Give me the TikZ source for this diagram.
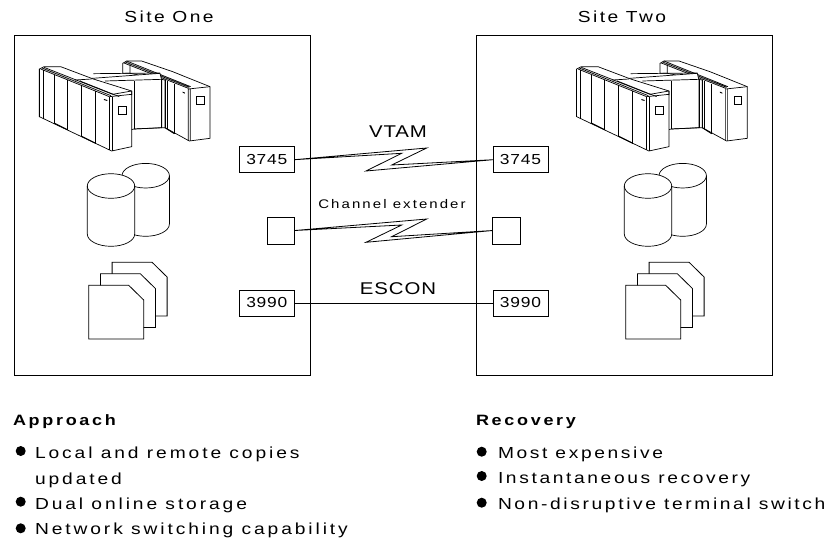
\documentclass[tikz,border=0pt]{standalone}
\usepackage{fontspec}
\setmainfont{Liberation Sans}
\newfontfamily\spaced[FakeStretch=1.2,LetterSpace=16.5]{Liberation Sans}
\newfontfamily\spacedl[FakeStretch=1.2,LetterSpace=18.2]{Liberation Sans}
\newfontfamily\spacedb[FakeStretch=1.2,LetterSpace=18,BoldFont={Liberation Sans Bold}]{Liberation Sans Bold}
\newfontfamily\wide[FakeStretch=1.2,LetterSpace=5.5]{Liberation Sans}
\newfontfamily\titlef[FakeStretch=1.2,LetterSpace=15]{Liberation Sans}
\begin{document}
\begin{tikzpicture}[x=1pt,y=-1pt,line join=miter,
  site/.style={draw,line width=1pt,minimum width=296pt,minimum height=340pt,inner sep=0pt,outer sep=0pt},
  unit/.style={draw,line width=0.8pt,inner sep=0pt,outer sep=0pt,minimum width=55pt,minimum height=26pt,font=\wide\fontsize{14.5}{14.5}\selectfont},
  port/.style={draw,line width=0.8pt,inner sep=0pt,outer sep=0pt,minimum width=27.5pt,minimum height=27pt},
  link/.style={line width=0.8pt,line join=miter},
  txt/.style={anchor=base west,inner sep=0pt,outer sep=0pt,font=\spaced\fontsize{16}{16}\selectfont},
  txtl/.style={txt,font=\spacedl\fontsize{16}{16}\selectfont},
  head/.style={anchor=base west,inner sep=0pt,outer sep=0pt,font=\spacedb\fontsize{15}{15}\selectfont},
  ctxt/.style={anchor=base,inner sep=0pt,outer sep=0pt,font=\titlef\fontsize{16}{16}\selectfont},
  dot/.style={circle,fill=black,inner sep=0pt,minimum size=10pt},
  gline/.style={line width=0.7pt},
  computer/.pic={
    \begin{scope}[x=0.3333pt,y=-0.3333pt,gline,fill=white]
    % right bank
    \filldraw (278,25) -- (290,18) -- (335,18) -- (428,50) -- (540,95) -- (540,250) -- (478,258) -- (405,218) -- (405,75) -- (300,55) -- (278,55) -- cycle;
    \draw (282,24) -- (475,100) (286,21) -- (478,97) (290,18) -- (482,95);
    \draw (300,28) -- (300,55) (475,100) -- (475,258) (481,100) -- (481,258) (475,102) -- (540,95);
    \draw (412,78) -- (412,222) (433,88) -- (433,238);
    \draw[line width=1pt] (405,218) -- (433,236);
    \filldraw (500,125) rectangle (523,147);
    \fill[black] (458,110) -- (465,113) -- (465,116) -- (458,113) -- cycle;
    % middle
    \filldraw (160,72) -- (390,55) -- (395,75) -- (395,218) -- (312,222) -- (240,240) -- cycle;
    \draw (190,56) -- (390,54) (225,78) -- (395,73);
    \draw (312,78) -- (312,222) (395,75) -- (395,220) (405,75) -- (405,218);
    \draw (312,222) -- (405,218);
    % left bank
    \filldraw (28,42) -- (42,35) -- (92,35) -- (190,72) -- (305,108) -- (305,275) -- (245,288) -- (28,185) -- cycle;
    \draw (32,42) -- (238,125) (36,39) -- (243,122) (42,37) -- (248,118);
    \draw (135,75) -- (185,72) (150,78) -- (268,125);
    \draw (248,118) -- (305,108);
    \draw (28,42) -- (28,185) (40,44) -- (40,192) (72,60) -- (72,206) (112,75) -- (112,226) (153,90) -- (153,245) (195,107) -- (195,267) (238,125) -- (238,285) (247,125) -- (247,288);
    \draw (238,125) -- (305,118) (305,108) -- (305,120);
    \draw[line width=1pt] (72,204) -- (112,224) (153,243) -- (195,264);
    \filldraw (265,155) rectangle (288,177);
    \fill[black] (222,132) -- (232,135) -- (232,138) -- (222,135) -- cycle;
    \end{scope}
  },
  disks/.pic={
    \begin{scope}[gline,fill=white]
    \filldraw (122,175.7) arc[start angle=180,end angle=0,x radius=23.7pt,y radius=12.3pt] -- (169.4,224) arc[start angle=0,end angle=-180,x radius=23.7pt,y radius=12.3pt] -- cycle;
    \draw (122,175.7) arc[start angle=180,end angle=360,x radius=23.7pt,y radius=12.3pt];
    \filldraw (87.3,186) arc[start angle=180,end angle=0,x radius=23.7pt,y radius=12.3pt] -- (134.7,234) arc[start angle=0,end angle=-180,x radius=23.7pt,y radius=12.3pt] -- cycle;
    \draw (87.3,186) arc[start angle=180,end angle=360,x radius=23.7pt,y radius=12.3pt];
    \end{scope}
  },
  docs/.pic={
    \begin{scope}[line width=0.8pt,fill=white]
    \filldraw (112.1,262.3) -- (152.1,262.3) -- (167.1,277) -- (167.1,316) -- (112.1,316) -- cycle;
    \filldraw (100.4,273.8) -- (140.4,273.8) -- (155.4,288.5) -- (155.4,327.5) -- (100.4,327.5) -- cycle;
    \filldraw (88.7,285.3) -- (128.7,285.3) -- (143.7,300) -- (143.7,339) -- (88.7,339) -- cycle;
    \end{scope}
  }]
\useasboundingbox (0,0) rectangle (828,539);
\node[site] (siteA) at (162,205) {};
\node[site] (siteB) at (624.3,205) {};
\pic at (30,55) {computer};
\pic at (567.3,55) {computer};
\pic at (0,0) {disks};
\pic at (537,0) {disks};
\pic at (0,0) {docs};
\pic at (537,0) {docs};
\node[unit] (a3745) at (266.8,159.7) {3745};
\node[unit] (b3745) at (520.5,159.7) {3745};
\node[port] (achan) at (281,230.5) {};
\node[port] (bchan) at (506.5,230.5) {};
\node[unit] (a3990) at (266.8,303) {3990};
\node[unit] (b3990) at (520.5,303) {3990};
\draw[link] (a3745.east) -- (426.7,148) -- (391.7,165) -- (b3745.west) -- (366,171) -- (401.7,153.3) -- cycle;
\draw[link] (achan.east) -- (426.7,219) -- (391.7,236.7) -- (bchan.west) -- (366,242.3) -- (401.7,225) -- cycle;
\draw[link] (a3990.east) -- (b3990.west);
\node[ctxt] (t1) at (169,22) {Site One};
\node[ctxt] (t2) at (622,22) {Site Two};
\node[ctxt,font=\wide\fontsize{17}{17}\selectfont] (l1) at (398,137) {VTAM};
\node[ctxt,font=\spaced\fontsize{12.5}{12.5}\selectfont] (l2) at (392,208) {Channel extender};
\node[ctxt,font=\wide\fontsize{17}{17}\selectfont] (l3) at (398,294) {ESCON};
\node[head] (h1) at (13,425) {Approach};
\node[dot] (d1) at (20.7,451) {};
\node[txtl] (p1) at (35,458) {Local and remote copies};
\node[txtl] (p1b) at (35,484) {updated};
\node[dot] (d2) at (20.7,501.7) {};
\node[txtl] (p2) at (35,509) {Dual online storage};
\node[dot] (d3) at (20.7,528.3) {};
\node[txtl] (p3) at (35,534) {Network switching capability};
\node[head] (h2) at (476,425) {Recovery};
\node[dot] (d4) at (481.7,451.7) {};
\node[txt] (r1) at (498,458) {Most expensive};
\node[dot] (d5) at (481.7,476) {};
\node[txt] (r2) at (498,483) {Instantaneous recovery};
\node[dot] (d6) at (481.7,502.7) {};
\node[txt] (r3) at (498,509) {Non-disruptive terminal switch};
\end{tikzpicture}
\end{document}
